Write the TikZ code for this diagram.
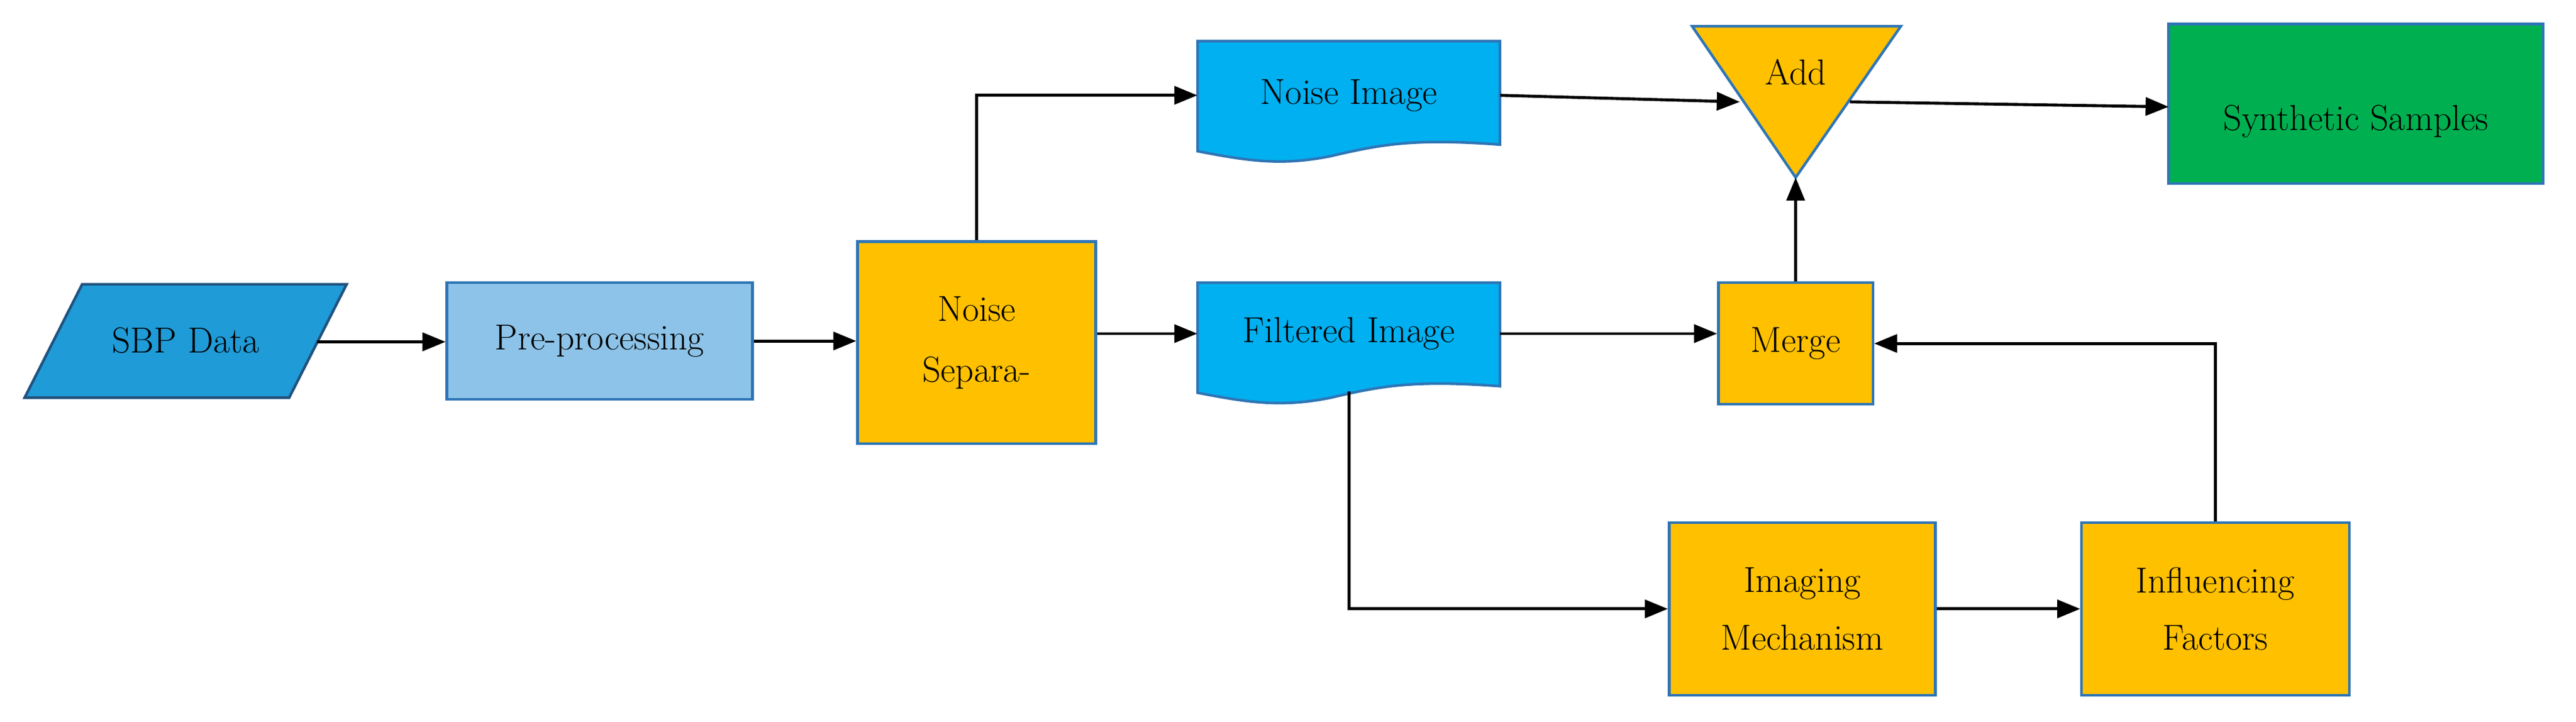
\documentclass[tikz,border=0pt]{standalone}
\usetikzlibrary{shapes.geometric,arrows.meta}
\begin{document}
\begin{tikzpicture}[x=1pt,y=-1pt,
  bx/.style={draw=#1!60!black,line width=1.6pt,font=\fontsize{22}{27}\selectfont,align=center,inner sep=0pt},
  ar/.style={line width=1.8pt,-{Triangle[length=14pt,width=11pt]}},
  lbl/.style={font=\fontsize{22}{27}\selectfont,align=center}]
\definecolor{sbp}{HTML}{1F9BD7}
\definecolor{pre}{HTML}{8DC3E8}
\definecolor{org}{HTML}{FFC000}
\definecolor{cya}{HTML}{00B0F0}
\definecolor{grn}{HTML}{00B050}
\definecolor{edge}{HTML}{2E75B6}
\useasboundingbox (0,0) rectangle (1568,439);
% SBP parallelogram
\draw[fill=sbp,draw=edge!70!black,line width=1.6pt] (15,242)--(50,173)--(211,173)--(176,242)--cycle;
\node[lbl] (sbp) at (113,207) {SBP Data};
\coordinate (sbpR) at (193,208);
\node[bx=pre,fill=pre,draw=edge,minimum width=186pt,minimum height=71pt] (pre) at (365,207.5) {Pre-processing};
\node[bx=org,fill=org,draw=edge,minimum width=145pt,minimum height=123pt] (ns) at (594.5,208.5) {Noise\\[10pt]Separa-};
% document shapes
\draw[fill=cya,draw=edge,line width=1.6pt] (729,25)--(913,25)--(913,88) .. controls (860,84) and (840,88) .. (810,95) .. controls (780,101) and (760,98) .. (729,92)--cycle;
\node[lbl,minimum width=184pt,minimum height=50pt] (ni) at (821,58) {Noise Image};
\draw[fill=cya,draw=edge,line width=1.6pt] (729,172)--(913,172)--(913,235) .. controls (860,231) and (840,235) .. (810,242) .. controls (780,248) and (760,245) .. (729,239)--cycle;
\node[lbl,minimum width=184pt,minimum height=50pt] (fi) at (821,203) {Filtered Image};
\coordinate (fiB) at (821,238);
% Add triangle
\draw[fill=org,draw=edge,line width=1.6pt] (1030,16)--(1157,16)--(1093,108)--cycle;
\node[lbl] (add) at (1093,44) {Add};
\coordinate (addL) at (1059,62);
\coordinate (addR) at (1126,62);
\coordinate (addB) at (1093,108);
% cylinder
\node[cylinder,shape border rotate=90,aspect=0.22,draw=edge,fill=grn,line width=1.6pt,minimum width=228pt,minimum height=97pt,font=\fontsize{22}{27}\selectfont,inner sep=0pt] (syn) at (1434,63.5) {};
\node[lbl] at (1434,74) {Synthetic Samples};
\coordinate (synL) at (1320,65);
\node[bx=org,fill=org,draw=edge,minimum width=94pt,minimum height=74pt] (mg) at (1093,209) {Merge};
\node[bx=org,fill=org,draw=edge,minimum width=162pt,minimum height=105pt] (im) at (1097,370.5) {Imaging\\[8pt]Mechanism};
\node[bx=org,fill=org,draw=edge,minimum width=163pt,minimum height=105pt] (inf) at (1348.5,370.5) {Influencing\\[8pt]Factors};
% arrows
\draw[ar] (sbpR)--(pre.west|-sbpR);
\draw[ar] (pre.east)--(ns.west|-pre.east);
\draw[ar] (ns.north)|-(ni.west);
\draw[ar] (ns.east|-fi.west)--(fi.west);
\draw[ar] (ni.east)--(addL);
\draw[ar] (addR)--(synL);
\draw[ar] (fi.east)--(mg.west|-fi.east);
\draw[ar] (mg.north)--(addB);
\draw[ar] (fiB)|-(im.west);
\draw[ar] (im.east)--(inf.west);
\draw[ar] (inf.north)|-(mg.east);
\end{tikzpicture}
\end{document}
